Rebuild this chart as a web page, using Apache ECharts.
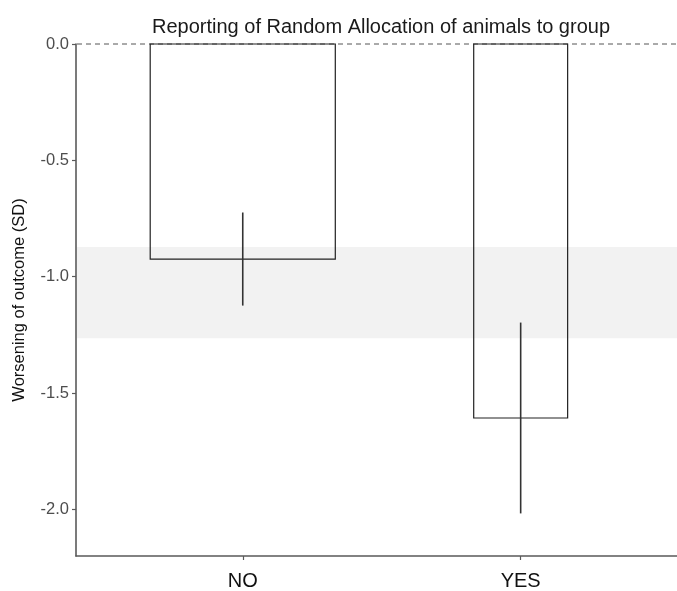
<!DOCTYPE html>
<html>
<head>
<meta charset="utf-8">
<script src="https://cdn.jsdelivr.net/npm/echarts@6/dist/echarts.min.js"></script>
<style>
html,body{margin:0;padding:0;background:#fff;}
#chart{width:677px;height:591px;}
</style>
</head>
<body>
<div id="chart"></div>
<script>
// ---- data ----
const categories = ['NO', 'YES'];
const means = [-0.924, -1.607];
const ciLow = [-1.124, -2.017];
const ciHigh = [-0.724, -1.197];
const pooledBand = [-0.872, -1.264];
const yTicks = [0, -0.5, -1, -1.5, -2];
const refLine = [0];

const catPos = categories.map((c, i) => i + 1);
const barHalfWidth = [0.333, 0.169];

const chart = echarts.init(document.getElementById('chart'), null, {renderer: 'canvas'});
const FONT = 'Liberation Sans, Arial, Helvetica, sans-serif';

const option = {
  animation: false,
  backgroundColor: '#ffffff',
  title: {
    text: 'Reporting of Random Allocation of animals to group',
    left: 376,
    textAlign: 'center',
    top: 12,
    textStyle: {fontFamily: FONT, fontSize: 20, fontWeight: 'normal', color: '#1a1a1a'}
  },
  grid: {left: 76, right: 0, top: 44, bottom: 35, containLabel: false},
  xAxis: {
    type: 'value',
    min: 0.4,
    max: 2.5625,
    axisLine: {show: true, onZero: false, lineStyle: {color: '#5a5a5a', width: 1.6}},
    axisTick: {show: true, length: 4, lineStyle: {color: '#5a5a5a', width: 1.2}, customValues: catPos},
    axisLabel: {
      customValues: catPos,
      margin: 15,
      fontFamily: FONT, fontSize: 20, color: '#111',
      formatter: v => categories[Math.round(v) - 1] || ''
    },
    splitLine: {show: false}
  },
  yAxis: {
    type: 'value',
    min: -2.2,
    max: 0,
    name: 'Worsening of outcome (SD)',
    nameLocation: 'middle',
    nameGap: 48,
    nameTextStyle: {fontFamily: FONT, fontSize: 16.5, color: '#111'},
    axisLine: {show: true, lineStyle: {color: '#5a5a5a', width: 1.6}},
    axisTick: {show: true, length: 4, lineStyle: {color: '#5a5a5a', width: 1.2}, customValues: yTicks},
    axisLabel: {
      customValues: yTicks,
      margin: 7,
      fontFamily: FONT, fontSize: 16.5, color: '#4d4d4d',
      formatter: v => (Math.abs(v) < 1e-9 ? 0 : v).toFixed(1)
    },
    splitLine: {show: false}
  },
  series: [
    {
      // pooled estimate band
      type: 'custom',
      z: 1,
      silent: true,
      data: [[pooledBand[0], pooledBand[1]]],
      renderItem: function (params, api) {
        const cs = params.coordSys;
        const yTop = api.coord([0.4, api.value(0)])[1];
        const yBot = api.coord([0.4, api.value(1)])[1];
        return {
          type: 'rect',
          shape: {x: cs.x + 1, y: yTop, width: cs.width, height: yBot - yTop},
          style: {fill: '#f2f2f2'}
        };
      }
    },
    {
      // dashed reference line at 0
      type: 'custom',
      z: 2,
      silent: true,
      data: refLine.map(v => [v]),
      renderItem: function (params, api) {
        const cs = params.coordSys;
        const y = api.coord([0.4, api.value(0)])[1];
        return {
          type: 'line',
          shape: {x1: cs.x + 1, y1: y, x2: cs.x + cs.width, y2: y},
          style: {stroke: '#555', lineWidth: 1, lineDash: [5, 4]}
        };
      }
    },
    {
      // bars (outlined, no fill)
      type: 'custom',
      z: 3,
      data: catPos.map((x, i) => [x, means[i], i]),
      renderItem: function (params, api) {
        const x = api.value(0), y = api.value(1), idx = api.value(2);
        const hw = barHalfWidth[idx];
        const p0 = api.coord([x - hw, 0]);
        const p1 = api.coord([x + hw, y]);
        return {
          type: 'rect',
          shape: {x: p0[0], y: p0[1], width: p1[0] - p0[0], height: p1[1] - p0[1]},
          style: {fill: 'none', stroke: '#222', lineWidth: 1.2}
        };
      }
    },
    {
      // confidence intervals
      type: 'custom',
      z: 4,
      data: catPos.map((x, i) => [x, ciLow[i], ciHigh[i]]),
      renderItem: function (params, api) {
        const x = api.value(0);
        const a = api.coord([x, api.value(1)]);
        const b = api.coord([x, api.value(2)]);
        return {
          type: 'line',
          shape: {x1: a[0], y1: a[1], x2: b[0], y2: b[1]},
          style: {stroke: '#333', lineWidth: 1.6}
        };
      }
    }
  ]
};
chart.setOption(option);
</script>
</body>
</html>
